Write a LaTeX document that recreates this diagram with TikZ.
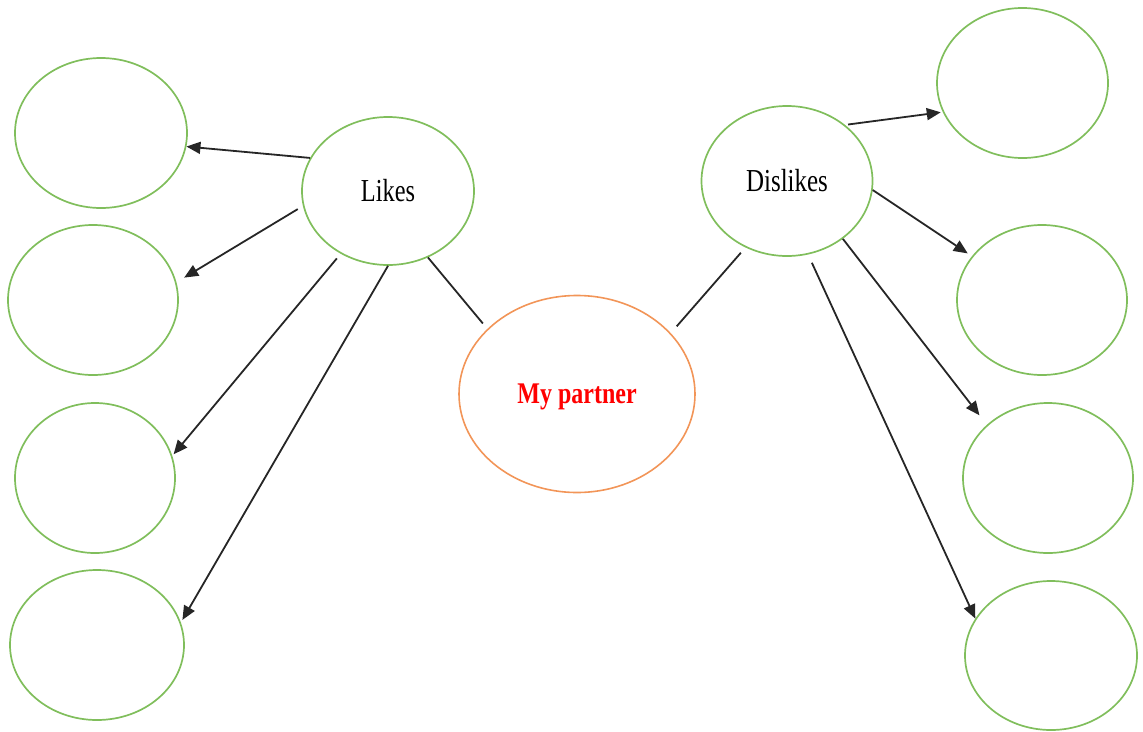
\documentclass[tikz,border=0pt]{standalone}
\usepackage{fontspec}
\usepackage{graphicx}
\setmainfont{Liberation Serif}
\usetikzlibrary{shapes.geometric,arrows.meta}
\definecolor{leafgreen}{HTML}{80BE5C}
\definecolor{huborange}{HTML}{F29558}
\begin{document}
\begin{tikzpicture}[x=1pt,y=-1pt,
  bubble/.style={ellipse,draw=leafgreen,line width=1.7pt,inner sep=0pt,
    minimum width=#1},
  bubble/.default=171pt,
  topic/.style={font=\fontsize{32}{36}\selectfont},
  link/.style={line width=1.8pt,draw=black!85},
  pointer/.style={link,-{Triangle[length=14pt,width=12pt]}}]
\useasboundingbox (0,0) rectangle (1143,731);

% central node and the two branches
\node[ellipse,draw=huborange,line width=1.6pt,inner sep=0pt,
  minimum width=236pt,minimum height=197pt,text=red,text depth=0pt,
  font=\fontsize{30}{34}\selectfont\bfseries] (partner) at (577,394)
  {\scalebox{0.8}[1]{My partner}};
\node[bubble=172pt,minimum height=148pt,topic] (likes) at (388,191)
  {\scalebox{0.76}[1]{Likes}};
\node[bubble=171pt,minimum height=150pt,topic] (dislikes) at (787,181)
  {\scalebox{0.78}[1]{Dislikes}};

% empty bubbles on the left
\node[bubble=172pt,minimum height=150pt] (l1) at (101,133) {};
\node[bubble=170pt,minimum height=150pt] (l2) at (93,300) {};
\node[bubble=160pt,minimum height=150pt] (l3) at (95,478) {};
\node[bubble=174pt,minimum height=150pt] (l4) at (97,645) {};

% empty bubbles on the right
\node[bubble=171pt,minimum height=150pt] (r1) at (1022.5,83) {};
\node[bubble=170pt,minimum height=150pt] (r2) at (1042,300) {};
\node[bubble=170pt,minimum height=150pt] (r3) at (1048,478) {};
\node[bubble=172pt,minimum height=149pt] (r4) at (1051,655.5) {};

% links to the centre
\draw[link,shorten >=7pt] (likes.-59.2) -- (partner.144);
\draw[link,shorten <=7pt,shorten >=9pt] (dislikes.238.6) -- (partner.33.2);

% arrows from Likes
\draw[pointer] (likes.157) -- (l1.-9.6);
\draw[pointer,shorten <=6pt,shorten >=9pt] (likes.190.7) -- (l2.12.4);
\draw[pointer,shorten <=6pt,shorten >=2pt] (likes.233.3) -- (l3.16.4);
\draw[pointer,shorten >=3pt] (likes.270) -- (l4.15);

% arrows from Dislikes
\draw[pointer,shorten <=3pt,shorten >=2pt] (dislikes.44) -- (r1.200.4);
\draw[pointer,shorten >=5pt] (dislikes.-6) -- (r2.148.1);
\draw[pointer,shorten >=12pt] (dislikes.-46) -- (r3.139.8);
\draw[pointer,shorten <=9pt] (dislikes.-74.3) -- (r4.154.4);
\end{tikzpicture}
\end{document}
